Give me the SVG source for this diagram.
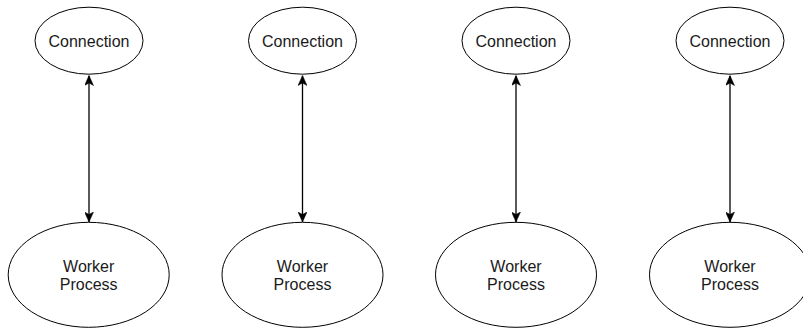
<svg xmlns="http://www.w3.org/2000/svg" width="803" height="328" viewBox="0 0 803 328">
  <style>
    .node { fill: #ffffff; stroke: #000000; stroke-width: 1; }
    .label { font-family: "Liberation Sans", Arial, sans-serif; font-size: 16px; fill: #1a1a1a; text-anchor: middle; }
    .link { stroke: #000000; stroke-width: 1.3; fill: none; marker-start: url(#arrow); marker-end: url(#arrow); }
  </style>
  <defs>
    <marker id="arrow" viewBox="0 0 10 9" refX="10" refY="4.5" markerWidth="10" markerHeight="9" markerUnits="userSpaceOnUse" orient="auto-start-reverse">
      <path d="M0,0 L10,4.5 L0,9 L2.5,4.5 Z" fill="#000000" stroke="#000000" stroke-width="0.5"/>
    </marker>
  </defs>

  <rect width="803" height="328" fill="#ffffff"/>

  <g id="connectors">
    <line class="link" x1="89" y1="75.5" x2="89" y2="222"/>
    <line class="link" x1="302.5" y1="75.5" x2="302.5" y2="222"/>
    <line class="link" x1="516" y1="75.5" x2="516" y2="222"/>
    <line class="link" x1="730" y1="75.5" x2="730" y2="222"/>
  </g>

  <g id="connection-1">
    <ellipse class="node" cx="89" cy="40.7" rx="54" ry="33.5"/>
    <text class="label" x="89" y="46.5">Connection</text>
  </g>
  <g id="connection-2">
    <ellipse class="node" cx="302.5" cy="40.7" rx="54" ry="33.5"/>
    <text class="label" x="302.5" y="46.5">Connection</text>
  </g>
  <g id="connection-3">
    <ellipse class="node" cx="516" cy="40.7" rx="54" ry="33.5"/>
    <text class="label" x="516" y="46.5">Connection</text>
  </g>
  <g id="connection-4">
    <ellipse class="node" cx="730" cy="40.7" rx="54" ry="33.5"/>
    <text class="label" x="730" y="46.5">Connection</text>
  </g>

  <g id="worker-1">
    <ellipse class="node" cx="88.7" cy="274.8" rx="80.5" ry="52.5"/>
    <text class="label" x="88.7" y="272">Worker</text>
    <text class="label" x="88.7" y="290">Process</text>
  </g>
  <g id="worker-2">
    <ellipse class="node" cx="302.5" cy="274.8" rx="80.5" ry="52.5"/>
    <text class="label" x="302.5" y="272">Worker</text>
    <text class="label" x="302.5" y="290">Process</text>
  </g>
  <g id="worker-3">
    <ellipse class="node" cx="516" cy="274.8" rx="80.5" ry="52.5"/>
    <text class="label" x="516" y="272">Worker</text>
    <text class="label" x="516" y="290">Process</text>
  </g>
  <g id="worker-4">
    <ellipse class="node" cx="730" cy="274.8" rx="80.5" ry="52.5"/>
    <text class="label" x="730" y="272">Worker</text>
    <text class="label" x="730" y="290">Process</text>
  </g>
</svg>
